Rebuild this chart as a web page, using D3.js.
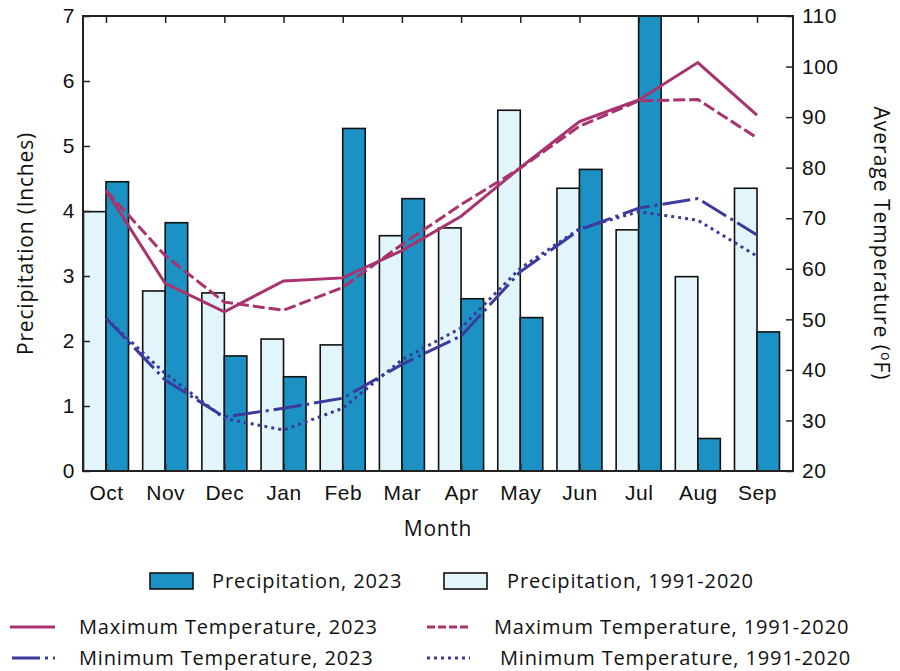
<!DOCTYPE html>
<html>
<head>
<meta charset="utf-8">
<script src="https://cdn.jsdelivr.net/npm/d3@7"></script>
<style>
  body { margin: 0; background: #fff; }
  svg { display: block; font-family: "Open Sans", "Noto Sans", sans-serif; }
</style>
</head>
<body>
<svg id="chart" width="900" height="671"></svg>
<script>
// ---- data ----
const months = ["Oct","Nov","Dec","Jan","Feb","Mar","Apr","May","Jun","Jul","Aug","Sep"];
const precip2023   = [4.45, 3.82, 1.77, 1.45, 5.27, 4.19, 2.65, 2.36, 4.64, 7.00, 0.50, 2.14];
const precipNormal = [3.99, 2.77, 2.74, 2.03, 1.94, 3.62, 3.74, 5.55, 4.35, 3.71, 2.99, 4.35];
const maxT2023     = [75.5, 57.1, 51.5, 57.6, 58.2, 63.6, 70.4, 80.0, 89.1, 93.4, 100.8, 90.4];
const maxTNormal   = [75.5, 62.6, 53.4, 51.8, 56.3, 64.8, 72.7, 79.9, 88.2, 93.2, 93.5, 85.9];
const minT2023     = [50.2, 38.0, 30.7, 32.4, 34.4, 41.1, 46.7, 59.4, 67.7, 72.0, 73.9, 66.7];
const minTNormal   = [50.2, 39.3, 30.4, 28.1, 32.4, 42.0, 48.3, 60.1, 67.9, 71.3, 69.6, 62.5];
const precipTicks = [0,1,2,3,4,5,6,7];
const tempTicks = [20,30,40,50,60,70,80,90,100,110];

// ---- layout ----
const L = 83, R = 793, T = 16, B = 471;
const svg = d3.select("#chart");

const x = d3.scalePoint().domain(months).range([106, 757]);
const sub = d3.scaleBand().domain(["normal","y2023"]).range([-22.5, 22.5]).padding(0);
const yP = d3.scaleLinear().domain([0, 7]).range([B, T]);
const yT = d3.scaleLinear().domain([20, 110]).range([B, T]);

const colDark = "#1b91c4", colLight = "#e1f5fb";
const colMax = "#a8336f", colMin = "#3c3b9d";

// bars
const g = svg.append("g");
const barData = [];
months.forEach((m, i) => {
  barData.push({m, key: "normal", v: precipNormal[i]});
  barData.push({m, key: "y2023", v: precip2023[i]});
});
g.selectAll("rect.bar").data(barData).join("rect")
  .attr("class", "bar")
  .attr("x", d => x(d.m) + sub(d.key))
  .attr("width", sub.bandwidth())
  .attr("y", d => yP(d.v))
  .attr("height", d => B - yP(d.v))
  .attr("fill", d => d.key === "y2023" ? colDark : colLight)
  .attr("stroke", "#111")
  .attr("stroke-width", 1.6);

// lines
const lineSeries = [
  {vals: maxTNormal, color: colMax, dash: "12,4"},
  {vals: maxT2023, color: colMax, dash: null},
  {vals: minTNormal, color: colMin, dash: "3,4"},
  {vals: minT2023, color: colMin, dash: "28,5,3,5"}
];
const line = d3.line().x((d, i) => x(months[i])).y(d => yT(d));
lineSeries.forEach(s => {
  svg.append("path")
    .attr("d", line(s.vals))
    .attr("fill", "none")
    .attr("stroke", s.color)
    .attr("stroke-width", 3)
    .attr("stroke-linejoin", "miter")
    .attr("stroke-dasharray", s.dash);
});

// axes
const fs = 21, ls = 0.5;
const leftAxis = d3.axisLeft(yP).tickValues(precipTicks).tickSize(-7).tickPadding(8).tickFormat(d3.format("d"));
const rightAxis = d3.axisRight(yT).tickValues(tempTicks).tickSize(-7).tickPadding(9).tickFormat(d3.format("d"));
const bottomAxis = d3.axisBottom(x).tickSize(-7).tickPadding(14);
const topAxis = d3.axisTop(x).tickSize(-7).tickFormat("");

function style(sel) {
  sel.select(".domain").remove();
  sel.selectAll("line").attr("stroke", "#222").attr("stroke-width", 1.5);
  sel.selectAll("text").attr("font-size", fs).attr("letter-spacing", ls).attr("fill", "#111");
}
svg.append("g").attr("transform", `translate(${L},0)`).call(leftAxis).call(style);
svg.append("g").attr("transform", `translate(${R},0)`).call(rightAxis).call(style);
svg.append("g").attr("transform", `translate(0,${B})`).call(bottomAxis).call(style);
svg.append("g").attr("transform", `translate(0,${T})`).call(topAxis).call(style);

// frame
svg.append("rect").attr("x", L).attr("y", T).attr("width", R - L).attr("height", B - T)
  .attr("fill", "none").attr("stroke", "#222").attr("stroke-width", 2);

// axis titles
svg.append("text").attr("x", (L + R) / 2).attr("y", 536)
  .attr("text-anchor", "middle").attr("font-size", fs).attr("letter-spacing", 0.7).attr("fill", "#111").text("Month");
svg.append("text").attr("transform", `translate(33,${(T + B) / 2}) rotate(-90)`)
  .attr("text-anchor", "middle").attr("font-size", fs).attr("letter-spacing", 0.8).attr("fill", "#111").text("Precipitation (Inches)");
const rt = svg.append("text").attr("transform", `translate(874,${(T + B) / 2}) rotate(90)`)
  .attr("text-anchor", "middle").attr("font-size", fs).attr("letter-spacing", 1.0).attr("fill", "#111");
rt.append("tspan").text("Average Temperature (");
rt.append("tspan").attr("font-size", 14).attr("dy", -7).text("o");
rt.append("tspan").attr("dy", 7).text("F)");

// legend
const lf = 20, lls = 0.85;
const leg = svg.append("g");
const boxes = [
  {x: 150, fill: colDark, label: "Precipitation, 2023", tx: 212},
  {x: 444, fill: colLight, label: "Precipitation, 1991-2020", tx: 507}
];
boxes.forEach(b => {
  leg.append("rect").attr("x", b.x).attr("y", 573).attr("width", 43).attr("height", 16)
    .attr("fill", b.fill).attr("stroke", "#111").attr("stroke-width", 1.6);
  leg.append("text").attr("x", b.tx).attr("y", 588).attr("font-size", lf).attr("letter-spacing", lls).attr("fill", "#111").text(b.label);
});
const legLines = [
  {x1: 10, x2: 55, y: 627, color: colMax, dash: null, label: "Maximum Temperature, 2023", tx: 79},
  {x1: 427, x2: 470, y: 627, color: colMax, dash: "8,3", label: "Maximum Temperature, 1991-2020", tx: 494},
  {x1: 12, x2: 55, y: 658, color: colMin, dash: "28,5,3,5", label: "Minimum Temperature, 2023", tx: 79},
  {x1: 427, x2: 470, y: 658, color: colMin, dash: "3,4", label: "Minimum Temperature, 1991-2020", tx: 500}
];
legLines.forEach(l => {
  leg.append("line").attr("x1", l.x1).attr("x2", l.x2).attr("y1", l.y).attr("y2", l.y)
    .attr("stroke", l.color).attr("stroke-width", 3).attr("stroke-dasharray", l.dash);
  leg.append("text").attr("x", l.tx).attr("y", l.y + 7).attr("font-size", lf).attr("letter-spacing", lls).attr("fill", "#111").text(l.label);
});
</script>
</body>
</html>
